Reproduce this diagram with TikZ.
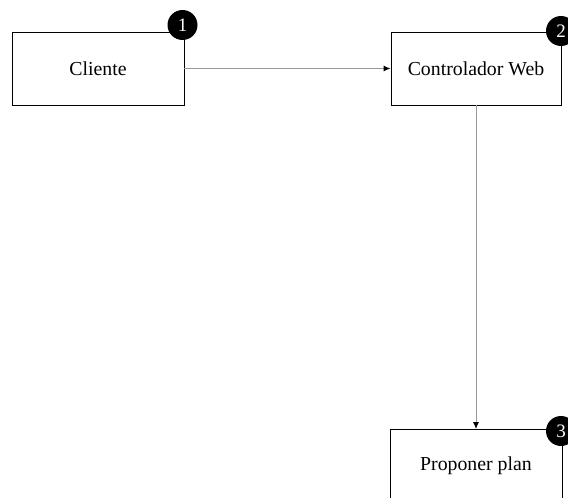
\documentclass[tikz,border=0pt]{standalone}
\usepackage{fontspec}
\setmainfont{Liberation Serif}
\usetikzlibrary{arrows.meta}
\begin{document}
\begin{tikzpicture}[x=1pt,y=1pt,
  stepbox/.style={draw=black, line width=0.9pt, fill=white, minimum width=172pt,
    minimum height=73pt, inner sep=0pt, font=\fontsize{19.8}{22}\selectfont},
  badge/.style={circle, fill=black, text=white, minimum size=30pt, inner sep=0pt,
    font=\fontsize{19}{22}\selectfont},
  flow/.style={draw=black!40, line width=1pt, -{Latex[length=7pt,width=6pt,color=black]}}]
  \useasboundingbox (0,0) rectangle (568,-498);
  \node[stepbox] (cliente) at (98,-68.5) {Cliente};
  \node[stepbox, minimum width=170pt] (web) at (476,-68.5) {Controlador Web};
  \node[stepbox] (plan) at (476,-466) {Proponer plan};
  \draw[flow] (cliente.east) -- (web.west);
  \draw[flow] (web.south) -- (plan.north);
  \node[badge] (b1) at (182.5,-25) {1};
  \node[badge] (b2) at (561,-31) {2};
  \node[badge] (b3) at (561,-431) {3};
\end{tikzpicture}
\end{document}
